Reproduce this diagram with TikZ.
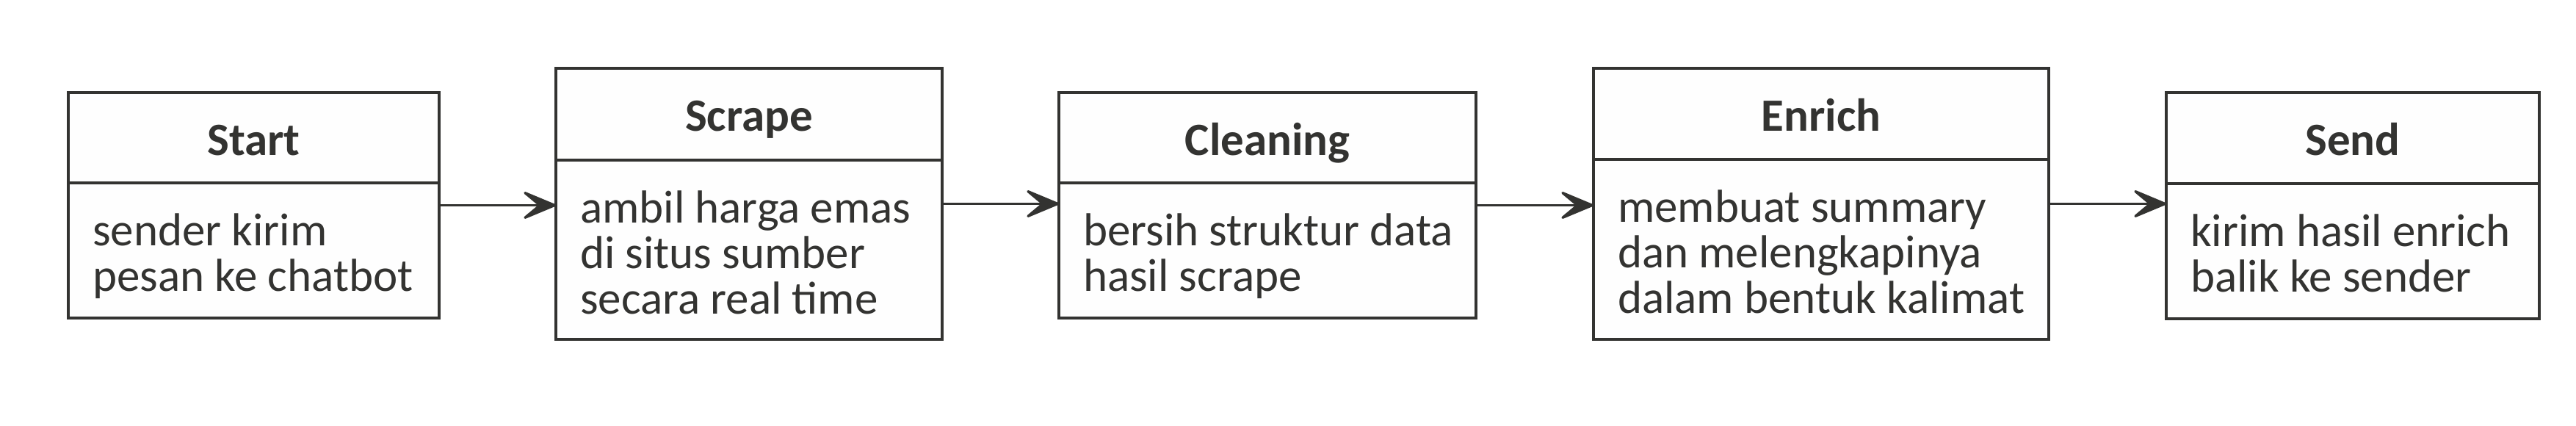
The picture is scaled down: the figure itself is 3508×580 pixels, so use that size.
\documentclass[tikz,border=0pt]{standalone}
\usepackage{fontspec}
\setmainfont{Carlito}
\usetikzlibrary{arrows.meta}
\definecolor{ink}{RGB}{51,51,49}
\definecolor{boxfill}{RGB}{254,254,254}
% #1 name, #2 left, #3 right, #4 top, #5 divider, #6 bottom, #7 title, #8 body
\newcommand\flowbox[8]{%
  \node[box, minimum width={(#3-#2)*0.2pt}, minimum height={(#6-#4)*0.2pt}] (#1) at ({(#2+#3)/2},{(#4+#6)/2}) {};
  \draw[divline] (#1.west |- 0,#5) -- (#1.east |- 0,#5);
  \node[ttl] (#1-title) at ({(#2+#3)/2},{#4+86}) {#7};
  \node[bodytext] (#1-body) at ({#2+32},{#5+86}) {\begin{tabular}[t]{@{}l@{}}#8\end{tabular}};
}
\begin{document}
\begin{tikzpicture}[x=0.2pt,y=-0.2pt,
  box/.style={draw=ink, fill=boxfill, line width=0.66pt, inner sep=0pt, outer sep=0pt},
  divline/.style={draw=ink, line width=0.66pt},
  ttl/.style={anchor=base, inner sep=0pt, text=ink, font=\fontsize{12.6pt}{12pt}\selectfont\bfseries},
  bodytext/.style={anchor=base west, inner sep=0pt, text=ink, font=\fontsize{12.6pt}{12pt}\selectfont},
  flow/.style={draw=ink, line width=0.66pt, line join=round, -{Stealth[length=10.8pt,width=9pt,inset=5.4pt,round]}}
]
\useasboundingbox[fill=white] (0,0) rectangle (3508,580);
\flowbox{start}{93}{598}{126}{249}{433}{Start}{sender kirim\\pesan ke chatbot}
\flowbox{scrape}{757}{1283}{93}{218}{462}{Scrape}{ambil harga emas\\di situs sumber\\secara real time}
\flowbox{cleaning}{1442}{2010}{126}{249}{433}{Cleaning}{bersih struktur data\\hasil scrape}
\flowbox{enrich}{2170}{2790}{93}{217}{462}{Enrich}{membuat summary\\dan melengkapinya\\dalam bentuk kalimat}
\flowbox{send}{2950}{3458}{126}{250}{434}{Send}{kirim hasil enrich\\balik ke sender}
\draw[flow] (start.east) -- (start.east -| scrape.west);
\draw[flow] (scrape.east) -- (scrape.east -| cleaning.west);
\draw[flow] (cleaning.east) -- (cleaning.east -| enrich.west);
\draw[flow] (enrich.east) -- (enrich.east -| send.west);
\end{tikzpicture}
\end{document}
